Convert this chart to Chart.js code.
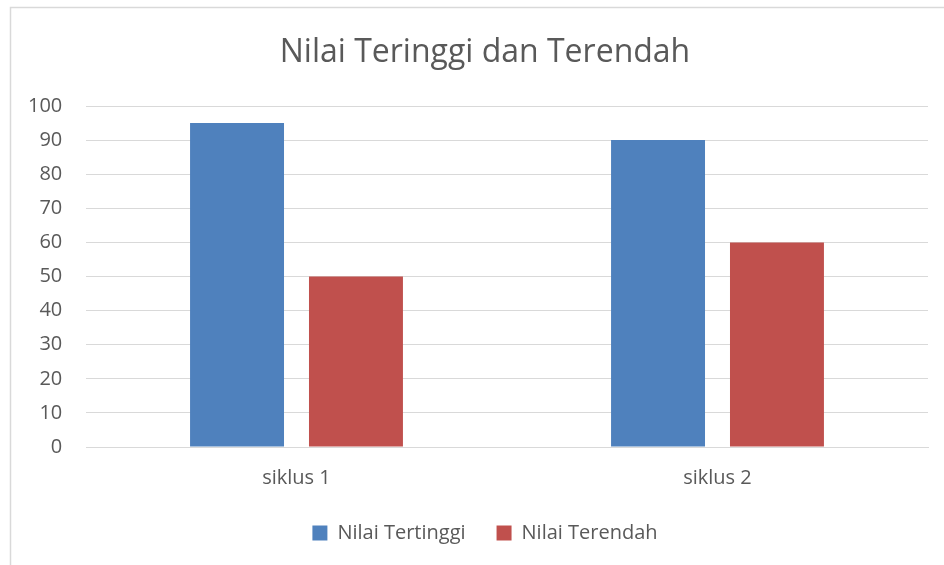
<!DOCTYPE html>
<html>
<head>
<meta charset="utf-8">
<script src="https://cdn.jsdelivr.net/npm/chart.js@4/dist/chart.umd.min.js"></script>
<style>
html,body{margin:0;padding:0;background:#fff;}
#wrap{width:944px;height:565px;position:relative;}
</style>
</head>
<body>
<div id="wrap"><canvas id="c" width="944" height="565"></canvas></div>
<script>
const chartTitle = "Nilai Teringgi dan Terendah";
const categories = ["siklus 1", "siklus 2"];
const seriesNames = ["Nilai Tertinggi", "Nilai Terendah"];
const nilaiTertinggi = [95, 90];
const nilaiTerendah = [50, 60];
const yTicks = [0, 10, 20, 30, 40, 50, 60, 70, 80, 90, 100];

const FONT = "'Open Sans', 'Liberation Sans', sans-serif";
const TEXT = "#595959";
const GRID = "#d9d9d9";

const borderPlugin = {
  id: 'frame',
  beforeDraw(chart) {
    const ctx = chart.ctx;
    ctx.save();
    ctx.fillStyle = '#ffffff';
    ctx.fillRect(0, 0, chart.width, chart.height);
    ctx.strokeStyle = GRID;
    ctx.lineWidth = 1.5;
    ctx.beginPath();
    ctx.moveTo(10.5, chart.height);
    ctx.lineTo(10.5, 7.5);
    ctx.lineTo(chart.width, 7.5);
    ctx.stroke();
    ctx.restore();
  }
};

new Chart(document.getElementById('c'), {
  type: 'bar',
  data: {
    labels: categories,
    datasets: [
      { label: seriesNames[0], data: nilaiTertinggi, backgroundColor: '#4F81BD', barPercentage: 0.79, categoryPercentage: 0.565 },
      { label: seriesNames[1], data: nilaiTerendah, backgroundColor: '#C0504D', barPercentage: 0.79, categoryPercentage: 0.565 }
    ]
  },
  options: {
    responsive: false,
    animation: false,
    devicePixelRatio: 1,
    layout: { padding: { top: 34, bottom: 12, left: 42, right: 16 } },
    plugins: {
      title: {
        display: true,
        text: chartTitle,
        color: TEXT,
        font: { family: FONT, size: 32, weight: 'normal' },
        padding: { top: 0, bottom: 33.6 }
      },
      legend: {
        position: 'bottom',
        labels: {
          color: TEXT,
          font: { family: FONT, size: 20 },
          boxWidth: 15,
          boxHeight: 15,
          padding: 31
        }
      },
      tooltip: { enabled: false }
    },
    scales: {
      x: {
        grid: { display: false, drawTicks: false },
        border: { display: true, color: GRID, width: 1 },
        ticks: { color: TEXT, font: { family: FONT, size: 20 }, padding: 19 },
        afterFit(scale) { scale.height = 45; }
      },
      y: {
        min: 0,
        max: 100,
        afterBuildTicks(scale) { scale.ticks = yTicks.map(v => ({ value: v })); },
        grid: { color: GRID, lineWidth: 1, drawTicks: false },
        border: { display: false },
        ticks: { color: TEXT, font: { family: FONT, size: 20 }, mirror: true, crossAlign: 'far', padding: -58 },
        afterFit(scale) { scale.width = 44; }
      }
    }
  },
  plugins: [borderPlugin]
});
</script>
</body>
</html>
